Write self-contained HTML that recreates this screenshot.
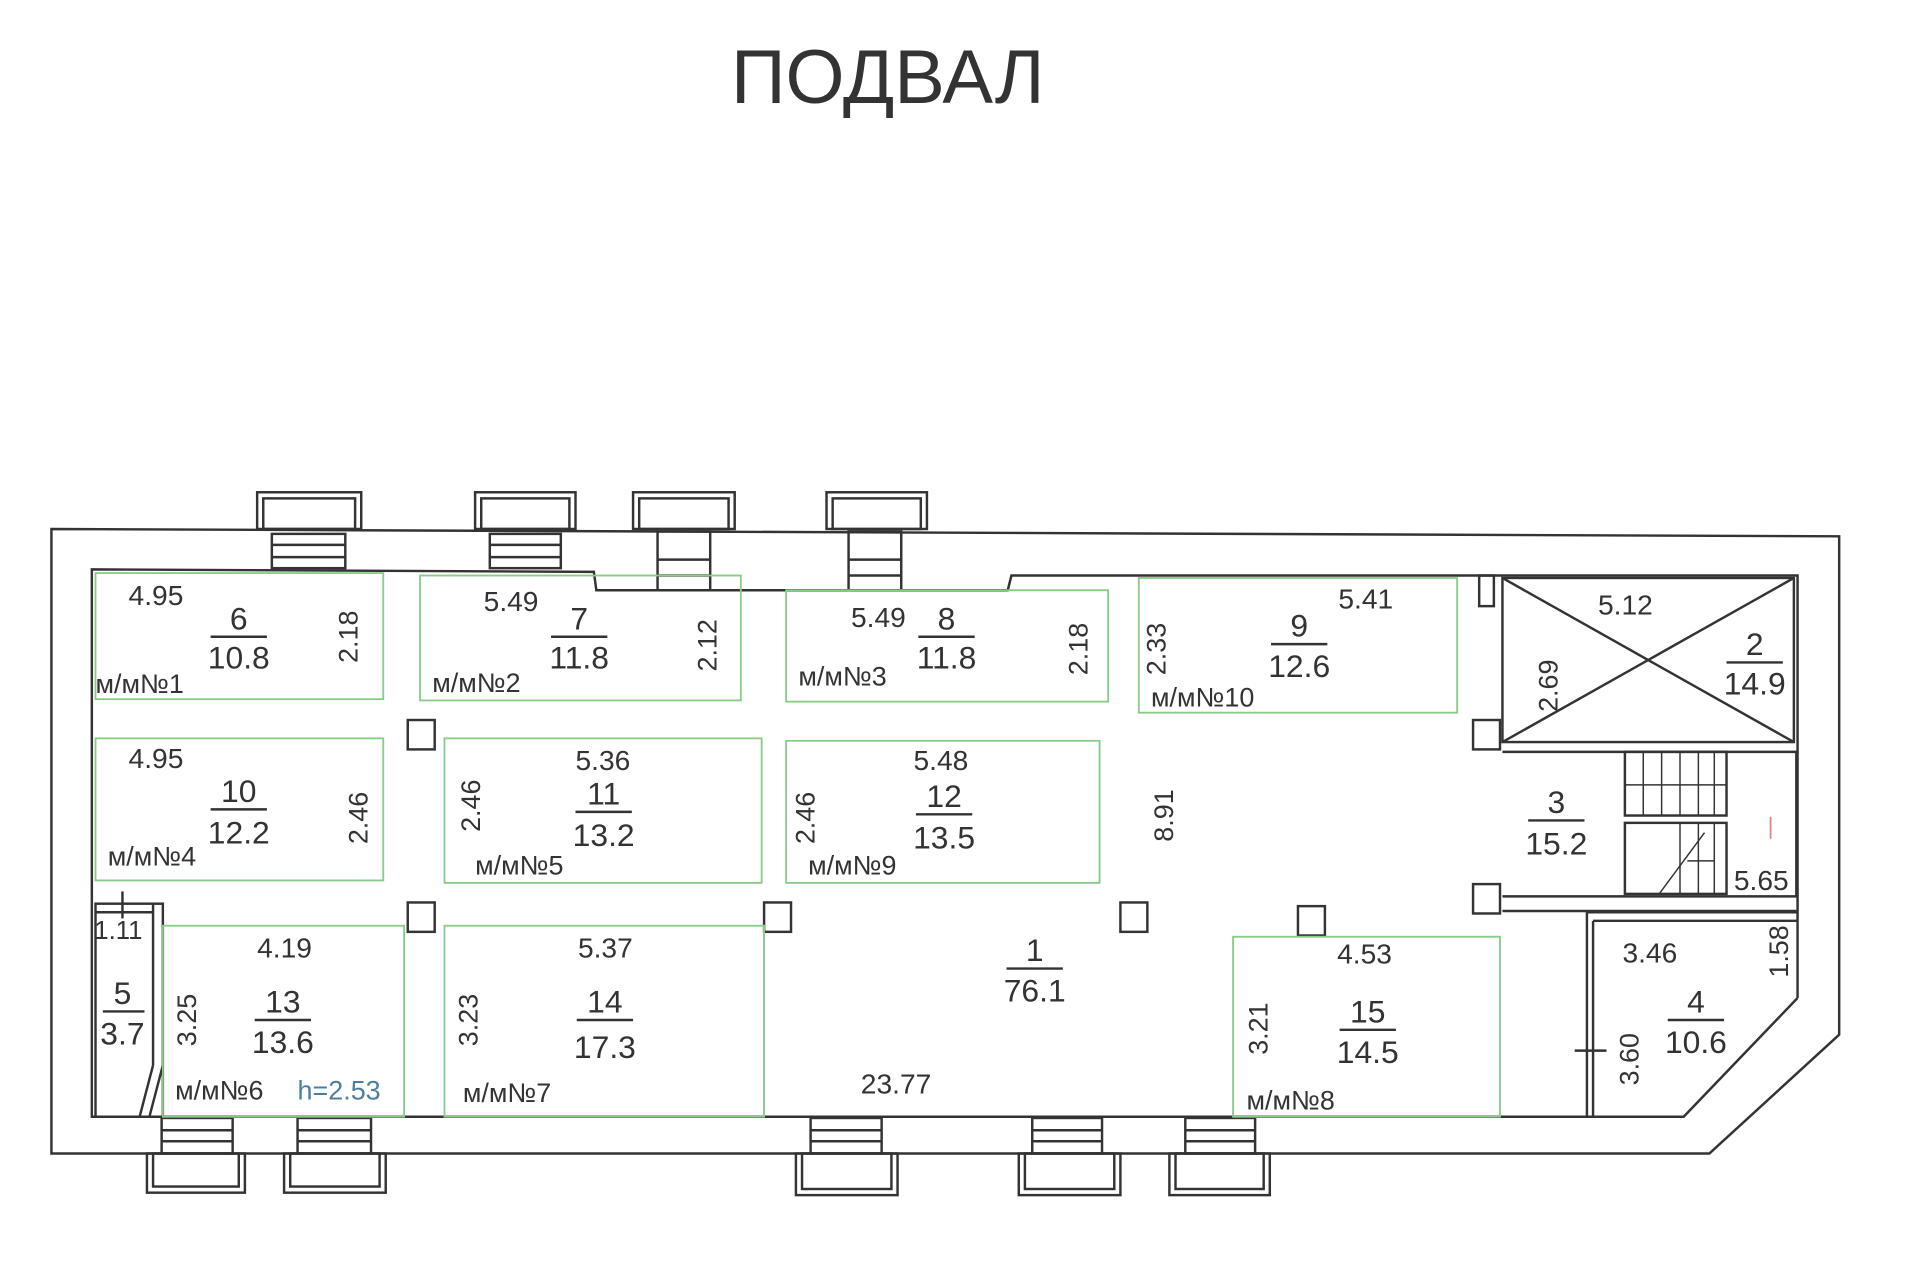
<!DOCTYPE html>
<html><head><meta charset="utf-8"><style>
html,body{margin:0;padding:0;background:#fff;}
svg{display:block}
text{font-family:"Liberation Sans",sans-serif;fill:#333;}
</style></head><body>
<svg width="1920" height="1279" viewBox="0 0 1568 1044.5" preserveAspectRatio="none" xmlns="http://www.w3.org/2000/svg">
<rect width="1568" height="1045" fill="#fff"/>
<text x="725" y="84" font-size="62" text-anchor="middle" fill="#444">ПОДВАЛ</text>
<g fill="none" stroke="#333" stroke-width="2">
<!-- outer wall -->
<polygon points="42,432 1502,438 1502,845 1396,942 42,942"/>
<!-- inner wall -->
<polyline points="1468,815 1375,912 75,912 75,465 485,467 487,482 823,482 826,470 1468,470 1468,815"/>
<!-- top windows -->
<g>
<rect x="210" y="402" width="85" height="30"/><rect x="215" y="407" width="75" height="25"/>
<rect x="388" y="402" width="82" height="30"/><rect x="393" y="407" width="72" height="25"/>
<rect x="517" y="402" width="83" height="30"/><rect x="522" y="407" width="73" height="25"/>
<rect x="675" y="402" width="82" height="30"/><rect x="680" y="407" width="72" height="25"/>
</g>
<!-- top steps -->
<rect x="222" y="436" width="60" height="28"/><line x1="222" y1="445" x2="282" y2="445"/><line x1="222" y1="455" x2="282" y2="455"/>
<rect x="400" y="436" width="58" height="28"/><line x1="400" y1="445" x2="458" y2="445"/><line x1="400" y1="455" x2="458" y2="455"/>
<rect x="537" y="434" width="43" height="48"/><line x1="537" y1="457" x2="580" y2="457"/><line x1="537" y1="470" x2="580" y2="470"/>
<rect x="693" y="434" width="43" height="48"/><line x1="693" y1="457" x2="736" y2="457"/><line x1="693" y1="470" x2="736" y2="470"/>
<!-- bottom steps -->
<rect x="132" y="913" width="58" height="29"/><line x1="132" y1="923" x2="190" y2="923"/><line x1="132" y1="932" x2="190" y2="932"/>
<rect x="243" y="913" width="60" height="29"/><line x1="243" y1="923" x2="303" y2="923"/><line x1="243" y1="932" x2="303" y2="932"/>
<rect x="662" y="913" width="58" height="29"/><line x1="662" y1="923" x2="720" y2="923"/><line x1="662" y1="932" x2="720" y2="932"/>
<rect x="843" y="913" width="57" height="29"/><line x1="843" y1="923" x2="900" y2="923"/><line x1="843" y1="932" x2="900" y2="932"/>
<rect x="968" y="913" width="57" height="29"/><line x1="968" y1="923" x2="1025" y2="923"/><line x1="968" y1="932" x2="1025" y2="932"/>
<!-- bottom windows -->
<rect x="120" y="942" width="80" height="32"/><rect x="125" y="942" width="70" height="27"/>
<rect x="232" y="942" width="83" height="32"/><rect x="237" y="942" width="73" height="27"/>
<rect x="650" y="942" width="83" height="34"/><rect x="655" y="942" width="73" height="29"/>
<rect x="832" y="942" width="83" height="34"/><rect x="837" y="942" width="73" height="29"/>
<rect x="955" y="942" width="82" height="34"/><rect x="960" y="942" width="72" height="29"/>
<!-- columns -->
<rect x="333" y="588" width="22" height="24"/>
<rect x="333" y="737" width="22" height="24"/>
<rect x="624" y="737" width="22" height="24"/>
<rect x="915" y="737" width="22" height="24"/>
<rect x="1060" y="740" width="22" height="24"/>
<rect x="1203" y="588" width="22" height="24"/>
<rect x="1203" y="722" width="22" height="24"/>
<rect x="1208" y="470" width="12" height="25"/>
<!-- room 2 -->
<rect x="1227" y="472" width="238" height="134"/>
<line x1="1227" y1="472" x2="1465" y2="606"/><line x1="1465" y1="472" x2="1227" y2="606"/>
<!-- room 3 walls -->
<polyline points="1227,614 1467,614 1467,732 1227,732"/>
<line x1="1227" y1="744" x2="1467" y2="744"/>
<!-- stairs -->
<rect x="1327" y="614" width="83" height="52"/>
<rect x="1327" y="672" width="83" height="58"/>
<g stroke-width="1.2">
<line x1="1342" y1="614" x2="1342" y2="666"/><line x1="1357" y1="614" x2="1357" y2="666"/><line x1="1372" y1="614" x2="1372" y2="666"/><line x1="1387" y1="614" x2="1387" y2="666"/><line x1="1400" y1="614" x2="1400" y2="666"/>
<line x1="1327" y1="641" x2="1410" y2="641"/>
<line x1="1372" y1="672" x2="1372" y2="730"/><line x1="1387" y1="672" x2="1387" y2="730"/><line x1="1400" y1="672" x2="1400" y2="730"/>
<line x1="1355" y1="730" x2="1392" y2="680"/>
<line x1="1378" y1="703" x2="1400" y2="703"/>
</g>
<!-- room 4 -->
<polyline points="1296,912 1296,745 1468,745"/>
<line x1="1301" y1="752" x2="1301" y2="912"/>
<line x1="1301" y1="752" x2="1468" y2="752"/>
<line x1="1286" y1="858" x2="1312" y2="858"/>
<!-- room 5 -->
<rect x="78" y="738" width="55" height="174"/>
<line x1="78" y1="745" x2="125" y2="745"/>
<line x1="125" y1="738" x2="125" y2="870"/>
<line x1="125" y1="870" x2="114" y2="912"/>
<line x1="133" y1="870" x2="122" y2="912"/>
<line x1="100" y1="728" x2="100" y2="750"/>
</g>
<line x1="1446" y1="667" x2="1446" y2="685" stroke="#d88" stroke-width="1.5"/>
<!-- green rooms -->
<g fill="none" stroke="#8c8" stroke-width="1.5">
<rect x="78" y="468" width="235" height="103"/>
<rect x="343" y="470" width="262" height="102"/>
<rect x="642" y="482" width="263" height="91"/>
<rect x="930" y="472" width="260" height="110"/>
<rect x="78" y="603" width="235" height="116"/>
<rect x="363" y="603" width="259" height="118"/>
<rect x="642" y="605" width="256" height="116"/>
<rect x="133" y="756" width="197" height="156"/>
<rect x="363" y="756" width="261" height="156"/>
<line x1="624" y1="756" x2="624" y2="912"/>
<rect x="1007" y="765" width="218" height="147"/>
</g>
<g font-size="23">
<text x="105" y="494">4.95</text>
<text x="395" y="499">5.49</text>
<text x="695" y="512">5.49</text>
<text x="1093" y="497">5.41</text>
<text x="1305" y="502">5.12</text>
<text x="105" y="627">4.95</text>
<text x="470" y="629">5.36</text>
<text x="746" y="629">5.48</text>
<text x="210" y="782">4.19</text>
<text x="472" y="782">5.37</text>
<text x="1092" y="787">4.53</text>
<text x="1325" y="786">3.46</text>
<text x="1416" y="727">5.65</text>
<text x="703" y="893">23.77</text>
<text x="77" y="767" font-size="21">1.11</text>
</g>
<g font-size="22" text-anchor="middle">
<text transform="translate(292,520) rotate(-90)">2.18</text>
<text transform="translate(585,527) rotate(-90)">2.12</text>
<text transform="translate(888,530) rotate(-90)">2.18</text>
<text transform="translate(952,530) rotate(-90)">2.33</text>
<text transform="translate(1272,560) rotate(-90)">2.69</text>
<text transform="translate(300,668) rotate(-90)">2.46</text>
<text transform="translate(392,658) rotate(-90)">2.46</text>
<text transform="translate(665,668) rotate(-90)">2.46</text>
<text transform="translate(958,666) rotate(-90)">8.91</text>
<text transform="translate(160,833) rotate(-90)">3.25</text>
<text transform="translate(390,833) rotate(-90)">3.23</text>
<text transform="translate(1035,840) rotate(-90)">3.21</text>
<text transform="translate(1338,865) rotate(-90)">3.60</text>
<text transform="translate(1460,777) rotate(-90)">1.58</text>
</g>
<g font-size="22">
<text x="78" y="566">м/м№1</text>
<text x="353" y="565">м/м№2</text>
<text x="652" y="560">м/м№3</text>
<text x="940" y="577">м/м№10</text>
<text x="88" y="707">м/м№4</text>
<text x="388" y="714">м/м№5</text>
<text x="660" y="714">м/м№9</text>
<text x="143" y="898">м/м№6</text>
<text x="243" y="898" fill="#4a7fa0" style="fill:#4a7fa0">h=2.53</text>
<text x="378" y="900">м/м№7</text>
<text x="1018" y="906">м/м№8</text>
</g>
<g font-size="26" text-anchor="middle">
<g><text x="195" y="514">6</text><line x1="172" y1="520" x2="218" y2="520" stroke="#333" stroke-width="2"/><text x="195" y="546">10.8</text></g>
<g><text x="473" y="514">7</text><line x1="450" y1="520" x2="496" y2="520" stroke="#333" stroke-width="2"/><text x="473" y="546">11.8</text></g>
<g><text x="773" y="514">8</text><line x1="750" y1="520" x2="796" y2="520" stroke="#333" stroke-width="2"/><text x="773" y="546">11.8</text></g>
<g><text x="1061" y="520">9</text><line x1="1038" y1="526" x2="1084" y2="526" stroke="#333" stroke-width="2"/><text x="1061" y="553">12.6</text></g>
<g><text x="1433" y="535">2</text><line x1="1410" y1="541" x2="1456" y2="541" stroke="#333" stroke-width="2"/><text x="1433" y="567">14.9</text></g>
<g><text x="195" y="655">10</text><line x1="172" y1="661" x2="218" y2="661" stroke="#333" stroke-width="2"/><text x="195" y="689">12.2</text></g>
<g><text x="493" y="657">11</text><line x1="470" y1="663" x2="516" y2="663" stroke="#333" stroke-width="2"/><text x="493" y="691">13.2</text></g>
<g><text x="771" y="659">12</text><line x1="748" y1="665" x2="794" y2="665" stroke="#333" stroke-width="2"/><text x="771" y="693">13.5</text></g>
<g><text x="1271" y="664">3</text><line x1="1248" y1="670" x2="1294" y2="670" stroke="#333" stroke-width="2"/><text x="1271" y="698">15.2</text></g>
<g><text x="845" y="785">1</text><line x1="822" y1="791" x2="868" y2="791" stroke="#333" stroke-width="2"/><text x="845" y="818">76.1</text></g>
<g><text x="100" y="820">5</text><line x1="84" y1="826" x2="118" y2="826" stroke="#333" stroke-width="2"/><text x="100" y="853">3.7</text></g>
<g><text x="231" y="827">13</text><line x1="208" y1="833" x2="254" y2="833" stroke="#333" stroke-width="2"/><text x="231" y="860">13.6</text></g>
<g><text x="494" y="827">14</text><line x1="471" y1="833" x2="517" y2="833" stroke="#333" stroke-width="2"/><text x="494" y="864">17.3</text></g>
<g><text x="1117" y="835">15</text><line x1="1094" y1="841" x2="1140" y2="841" stroke="#333" stroke-width="2"/><text x="1117" y="868">14.5</text></g>
<g><text x="1385" y="827">4</text><line x1="1362" y1="833" x2="1408" y2="833" stroke="#333" stroke-width="2"/><text x="1385" y="860">10.6</text></g>
</g>
</svg>
</body></html>
